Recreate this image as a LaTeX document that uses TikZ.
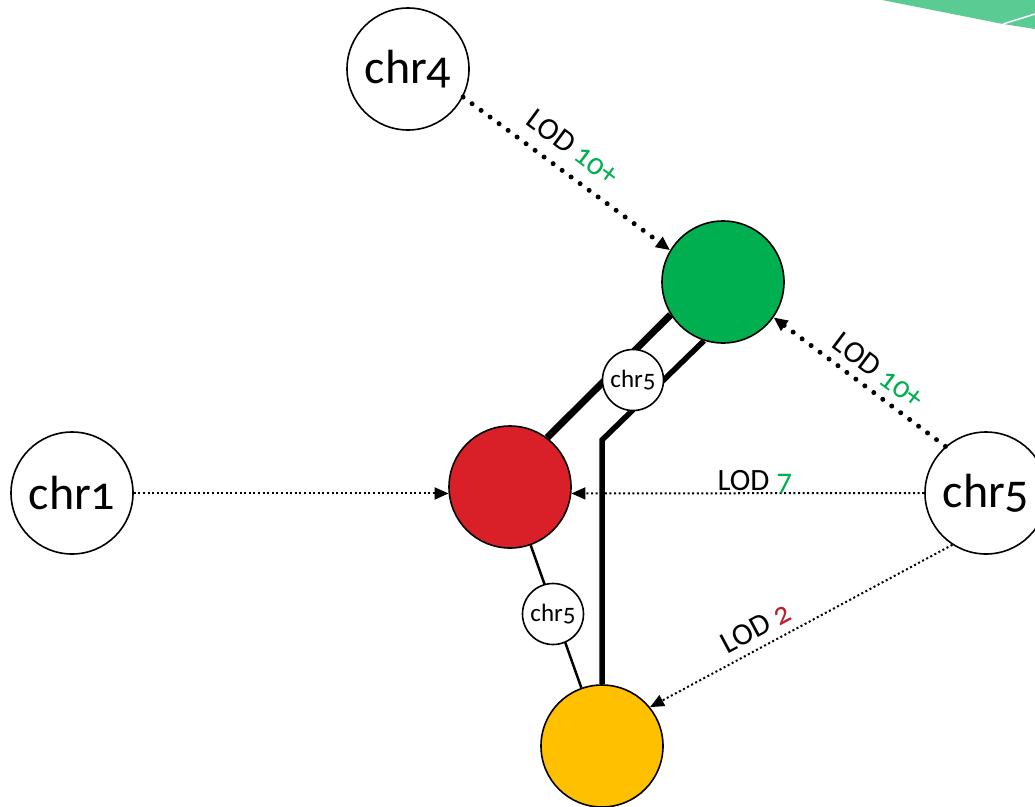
\documentclass[tikz,border=0pt]{standalone}
\usepackage{fontspec}
\setmainfont[Numbers=OldStyle]{Carlito}
\usetikzlibrary{arrows.meta}

\definecolor{lodgreen}{HTML}{00B050}
\definecolor{lodred}{HTML}{D92029}
\definecolor{lodyellow}{HTML}{FFC000}
\definecolor{numred}{HTML}{B8202A}
\definecolor{cornergreen}{HTML}{5BCB94}

\tikzset{
  chrom/.style={circle, draw=black, line width=1.6pt, minimum size=122pt, inner sep=0pt,
    font=\fontsize{48}{48}\selectfont},
  cluster/.style={chrom},
  mini/.style={circle, draw=black, fill=white, line width=1.6pt, minimum size=61pt, inner sep=0pt,
    font=\fontsize{25}{25}\selectfont},
  tip/.style={-{Triangle[length=14pt, width=12pt]}},
  strong/.style={tip, line width=5pt, line cap=round, dash pattern=on 0pt off 11.2pt},
  weak/.style={tip, line width=2pt, dash pattern=on 2pt off 2.6pt},
  lod/.style={font=\fontsize{31}{31}\selectfont, inner sep=0pt},
}

\begin{document}
\begin{tikzpicture}[x=1pt, y=-1pt]
  \useasboundingbox (0,0) rectangle (1035,806);

  % corner decoration
  \fill[cornergreen] (882,0) -- (1035,0) -- (1035,29) -- (1003,24) -- cycle;
  \draw[white, line width=1.5pt] (1003,24) -- (1035,14);

  % chromosomes
  \node[chrom] (chr4) at (408,69) {chr4};
  \node[chrom] (chr1) at (72,493) {chr1};
  \node[chrom] (chr5) at (986,493) {chr5};

  % clusters
  \node[cluster, fill=lodgreen] (green) at (723,282) {};
  \node[cluster, fill=lodred] (red) at (510,487) {};
  \node[cluster, fill=lodyellow] (yellow) at (602,746) {};

  % links between clusters
  \draw[line width=7pt] (green.212) -- (red.53);
  \coordinate (bend) at (602,440);
  \draw[line width=5.5pt] (green.252) -- (bend) -- (yellow.north);
  \draw[line width=2.5pt] (red) -- (yellow);

  % linkage evidence
  \draw[strong] (chr4.-27) -- node[lod, pos=0.46, sloped, above=12.5pt]
    {LOD \textcolor{lodgreen}{10+}} (green.149);
  \draw[strong] (chr5.131) -- node[lod, pos=0.46, sloped, above=8pt]
    {LOD \textcolor{lodgreen}{10+}} (green.-35);
  \draw[weak] (chr1.east |- red.186) -- (red.186);
  \draw[weak] (chr5.west) -- node[lod, pos=0.48, anchor=base, yshift=3pt]
    {LOD \textcolor{lodgreen}{7}} (red.-6);
  \draw[weak] (chr5.237) -- node[lod, pos=0.62, sloped, above=8.5pt]
    {LOD \textcolor{numred}{2}} (yellow.39);

  % shared chromosome markers
  \node[mini] (link1) at (633,380) {chr5};
  \node[mini] (link2) at (553,614) {chr5};
\end{tikzpicture}
\end{document}
